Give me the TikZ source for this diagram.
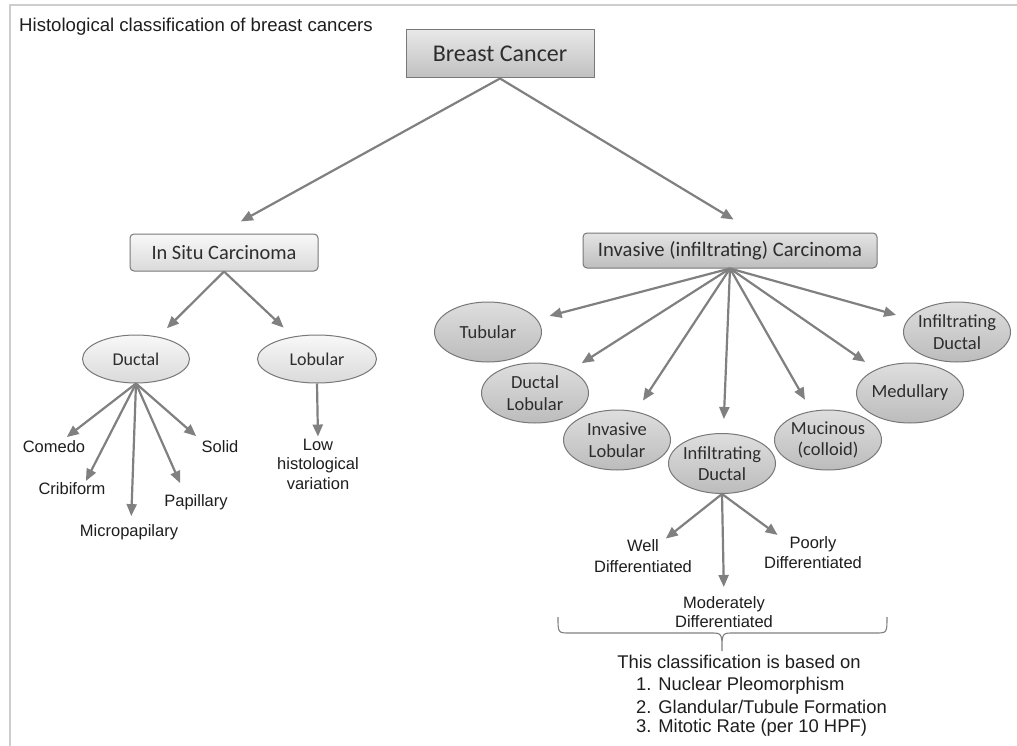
\documentclass[tikz,border=0pt]{standalone}
\usepackage{fontspec}
\setmainfont{Liberation Sans}
\newfontfamily\carl{Carlito}
\usetikzlibrary{shapes.geometric,arrows.meta}
\definecolor{arr}{RGB}{128,128,128}
\definecolor{framegray}{RGB}{205,205,205}
\definecolor{boxborder}{RGB}{120,120,120}
\definecolor{boxtext}{RGB}{45,45,45}
\definecolor{labeltext}{RGB}{30,30,30}
\definecolor{bctop}{RGB}{232,232,232}
\definecolor{bcbot}{RGB}{192,192,192}
\definecolor{lighttop}{RGB}{248,248,248}
\definecolor{lightbot}{RGB}{218,218,218}
\definecolor{darktop}{RGB}{228,228,228}
\definecolor{darkbot}{RGB}{190,190,190}
\definecolor{ovaltop}{RGB}{222,222,222}
\definecolor{ovalbot}{RGB}{188,188,188}
\tikzset{
  arrowline/.style={draw=arr, line width=2.2pt, -{Triangle[length=12pt,width=10pt]}},
  lbl/.style={font=\fontsize{16.5}{20}\selectfont, text=labeltext, align=center, inner sep=0pt},
  note/.style={font=\fontsize{18.4}{21}\selectfont, text=labeltext, inner sep=0pt},
  boxbase/.style={rectangle, draw=boxborder, line width=1pt, text=boxtext, inner sep=0pt},
  bcbox/.style={boxbase, top color=bctop, bottom color=bcbot, minimum width=188pt, minimum height=48pt, font=\carl\fontsize{24}{28}\selectfont},
  lightbox/.style={boxbase, rounded corners=4pt, top color=lighttop, bottom color=lightbot, font=\carl\fontsize{20.4}{24}\selectfont},
  darkbox/.style={boxbase, rounded corners=4pt, top color=darktop, bottom color=darkbot, font=\carl\fontsize{20.6}{24}\selectfont},
  ovalR/.style={ellipse, draw=boxborder, line width=1pt, top color=ovaltop, bottom color=ovalbot, minimum width=107pt, minimum height=60pt, inner sep=-1.5pt, align=center, text=boxtext, font=\carl\fontsize{18.5}{21.5}\selectfont},
  ovalL/.style={ellipse, draw=boxborder, line width=1pt, top color=lighttop, bottom color=lightbot, minimum width=107pt, minimum height=48pt, inner sep=-1.5pt, align=center, text=boxtext, font=\carl\fontsize{18}{21}\selectfont}
}
\begin{document}
\begin{tikzpicture}[x=1pt,y=-1pt]
\useasboundingbox (0,0) rectangle (1017,746);
\fill[white] (0,0) rectangle (1017,746);
\draw[framegray, line width=1.4pt] (10,746) -- (10,5) -- (1017,5);

\node[anchor=west, font=\fontsize{18.6}{22}\selectfont, text=labeltext, inner sep=0pt] (title) at (19,27) {Histological classification of breast cancers};

% boxes
\node[bcbox] (bc) at (500,54) {Breast Cancer};
\node[lightbox, minimum width=188pt, minimum height=37pt] (insitu) at (224,252.5) {In Situ Carcinoma};
\node[darkbox, minimum width=294pt, minimum height=35pt] (inv) at (730,250.5) {Invasive (infiltrating) Carcinoma};

% left ellipses
\node[ovalL] (ductal) at (136,359) {Ductal};
\node[ovalL, minimum width=119pt] (lobular) at (317,359) {Lobular};

% right ellipses
\node[ovalR] (tub) at (488,332) {Tubular};
\node[ovalR] (dlob) at (535,393) {Ductal\\Lobular};
\node[ovalR] (ilob) at (617,440) {Invasive\\Lobular};
\node[ovalR] (infd) at (722,463.5) {Infiltrating\\Ductal};
\node[ovalR] (muc) at (828,440) {Mucinous\\(colloid)};
\node[ovalR] (med) at (910,393) {Medullary};
\node[ovalR] (infr) at (957,332) {Infiltrating\\Ductal};

% in situ labels
\node[lbl] (comedo) at (54,447) {Comedo};
\node[lbl] (crib) at (72,489) {Cribiform};
\node[lbl] (micro) at (129,532) {Micropapilary};
\node[lbl] (pap) at (196,502) {Papillary};
\node[lbl] (solid) at (220,447) {Solid};
\node[lbl, font=\fontsize{16.5}{19.5}\selectfont] (low) at (318,464) {Low\\histological\\variation};

% grade labels
\node[lbl, font=\fontsize{16.5}{21}\selectfont] (well) at (643,556) {Well\\Differentiated};
\node[lbl] (poorly) at (813,553) {Poorly\\Differentiated};
\node[lbl, font=\fontsize{16.5}{19.5}\selectfont] (moder) at (724,612) {Moderately\\Differentiated};

% main arrows
\draw[arrowline, shorten >=25pt] (bc.south) -- ([xshift=-5pt]insitu.north);
\draw[arrowline, shorten >=25pt] (bc.south) -- ([xshift=25pt]inv.north);
\draw[arrowline, shorten >=12pt] (insitu.south) -- (ductal);
\draw[arrowline, shorten >=13pt] (insitu.south) -- (lobular);

% invasive arrows
\foreach \t in {tub,dlob,ilob,muc,med,infr}
  \draw[arrowline, shorten >=13pt] (inv.south) -- (\t);
\draw[arrowline, shorten >=14pt] (inv.south) -- (infd);

% ductal arrows
\draw[arrowline, shorten >=6pt] (ductal.south) -- ([xshift=8pt]comedo.north);
\draw[arrowline, shorten >=2pt] (ductal.south) -- ([xshift=13pt]crib.north);
\draw[arrowline, shorten >=8pt] (ductal.south) -- ([xshift=2pt]micro.north);
\draw[arrowline, shorten >=12pt] (ductal.south) -- ([xshift=-11pt]pap.north);
\draw[arrowline, shorten >=7pt] (ductal.south) -- (solid.north west);
\draw[arrowline, shorten >=2pt] (lobular.south) -- (low.north);

% grade arrows
\draw[arrowline, shorten >=1pt] (infd.south) -- ([xshift=22pt]well.north);
\draw[arrowline, shorten >=3pt] (infd.south) -- ([xshift=-33pt]poorly.north);
\draw[arrowline, shorten >=9pt] (infd.south) -- (moder.north);

% brace
\draw[draw=arr, line width=1.1pt] (558,617) .. controls (558,633) and (558,633) .. (570,633) -- (710,633) .. controls (722,633) and (722,633) .. (722,651) .. controls (722,633) and (722,633) .. (734,633) -- (875,633) .. controls (887,633) and (887,633) .. (887,617);

% note
\node[note] (basis) at (739,662) {This classification is based on};
\node[note, anchor=west] (c1) at (636,686) {1. Nuclear Pleomorphism};
\node[note, anchor=west] (c2) at (636,707) {2. Glandular/Tubule Formation};
\node[note, anchor=west] (c3) at (636,728) {3. Mitotic Rate (per 10 HPF)};
\end{tikzpicture}
\end{document}
